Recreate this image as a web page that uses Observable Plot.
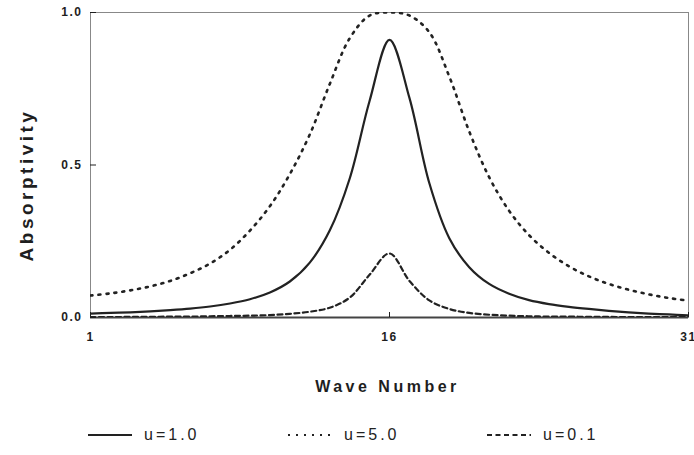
<!DOCTYPE html>
<html>
<head>
<meta charset="utf-8">
<script src="https://cdn.jsdelivr.net/npm/d3@7"></script>
<script src="https://cdn.jsdelivr.net/npm/@observablehq/plot@0.6"></script>
<style>
  html, body { margin: 0; padding: 0; background: #fff; }
  #wrap { width: 694px; font-family: "Liberation Sans", Arial, sans-serif; color: #1e1e1e; }
  #legend { position: relative; width: 694px; height: 45px; }
  .item { position: absolute; top: 15px; height: 20px; display: flex; align-items: center; }
  .item span { font-size: 16px; letter-spacing: 3px; margin-left: 12px; color: #222; }
</style>
</head>
<body>
<div id="wrap">
  <div id="chart"></div>
  <div id="legend"></div>
</div>
<script>
const waveNumbers = [1,2,3,4,5,6,7,8,9,10,11,12,13,14,15,16,17,18,19,20,21,22,23,24,25,26,27,28,29,30,31];
const u1 = [0.013,0.015,0.017,0.020,0.024,0.029,0.036,0.046,0.060,0.082,0.118,0.180,0.285,0.455,0.710,0.910,0.720,0.440,0.260,0.165,0.110,0.078,0.057,0.044,0.035,0.028,0.022,0.017,0.013,0.010,0.007];
const u5 = [0.072,0.079,0.089,0.102,0.120,0.145,0.177,0.222,0.285,0.365,0.470,0.600,0.765,0.915,0.990,1.000,0.990,0.935,0.790,0.610,0.460,0.350,0.270,0.212,0.168,0.135,0.110,0.091,0.076,0.064,0.055];
const u01 = [0.001,0.001,0.002,0.002,0.003,0.003,0.004,0.005,0.006,0.008,0.012,0.019,0.032,0.065,0.140,0.210,0.120,0.056,0.028,0.015,0.009,0.006,0.004,0.003,0.003,0.002,0.002,0.001,0.001,0.001,0.001];
const seriesNames = ["u=1.0", "u=5.0", "u=0.1"];
const xTicks = [1, 16, 31];
const yTicks = [0, 0.5, 1];
const xLabel = "Wave Number";
const yLabel = "Absorptivity";

const rows = (vals) => waveNumbers.map((w, i) => ({w, a: vals[i]}));
const ink = "#222";
const styles = [
  {stroke: ink, strokeWidth: 2.2},
  {stroke: ink, strokeWidth: 2.6, strokeDasharray: "2,6"},
  {stroke: ink, strokeWidth: 2.2, strokeDasharray: "5,3.5"}
];

const chart = Plot.plot({
  width: 694,
  height: 410,
  marginLeft: 90,
  marginRight: 6,
  marginTop: 12,
  marginBottom: 93,
  style: {fontFamily: "'Liberation Sans', Arial, sans-serif", color: "#1e1e1e", background: "#fff"},
  x: {domain: [1, 31]},
  y: {domain: [0, 1]},
  marks: [
    Plot.frame({stroke: "#888", strokeWidth: 1}),
    Plot.ruleY([0], {stroke: "#444", strokeWidth: 2}),
    Plot.axisY({ticks: yTicks, tickFormat: d => d.toFixed(1), tickSize: -6, tickPadding: 14, label: null, fontSize: 12, fontWeight: "bold"}),
    Plot.axisX({ticks: xTicks, tickFormat: d => String(d), tickSize: -5, tickPadding: 20, label: null, fontSize: 12, fontWeight: "bold"}),
    Plot.text([yLabel], {frameAnchor: "left", textAnchor: "middle", rotate: -90, dx: -64, dy: 20, fontSize: 19, fontWeight: "bold", fill: "#1e1e1e"}),
    Plot.text([xLabel], {frameAnchor: "bottom", textAnchor: "middle", dy: 74, dx: -2, fontSize: 16, fontWeight: "bold", fill: "#1e1e1e"}),
    Plot.lineY(rows(u1), {x: "w", y: "a", curve: "catmull-rom", clip: true, ...styles[0]}),
    Plot.lineY(rows(u5), {x: "w", y: "a", curve: "catmull-rom", clip: true, ...styles[1]}),
    Plot.lineY(rows(u01), {x: "w", y: "a", curve: "catmull-rom", clip: true, ...styles[2]})
  ]
});
document.getElementById("chart").appendChild(chart);

d3.select(chart).selectAll("g[aria-label='y-axis tick label'] text, g[aria-label='x-axis tick label'] text").style("letter-spacing", "1.5px");
d3.select(chart).selectAll("g[aria-label='text'] text").style("letter-spacing", "3.5px");

// legend
const legendPos = [88, 288, 487];
const legend = d3.select("#legend");
seriesNames.forEach((name, i) => {
  const item = legend.append("div").attr("class", "item").style("left", legendPos[i] + "px");
  const svg = item.append("svg").attr("width", 44).attr("height", 10);
  svg.append("line").attr("x1", 0).attr("x2", 44).attr("y1", 5).attr("y2", 5)
    .attr("stroke", styles[i].stroke).attr("stroke-width", 2)
    .attr("stroke-dasharray", styles[i].strokeDasharray || null);
  item.append("span").text(name);
});
</script>
</body>
</html>
